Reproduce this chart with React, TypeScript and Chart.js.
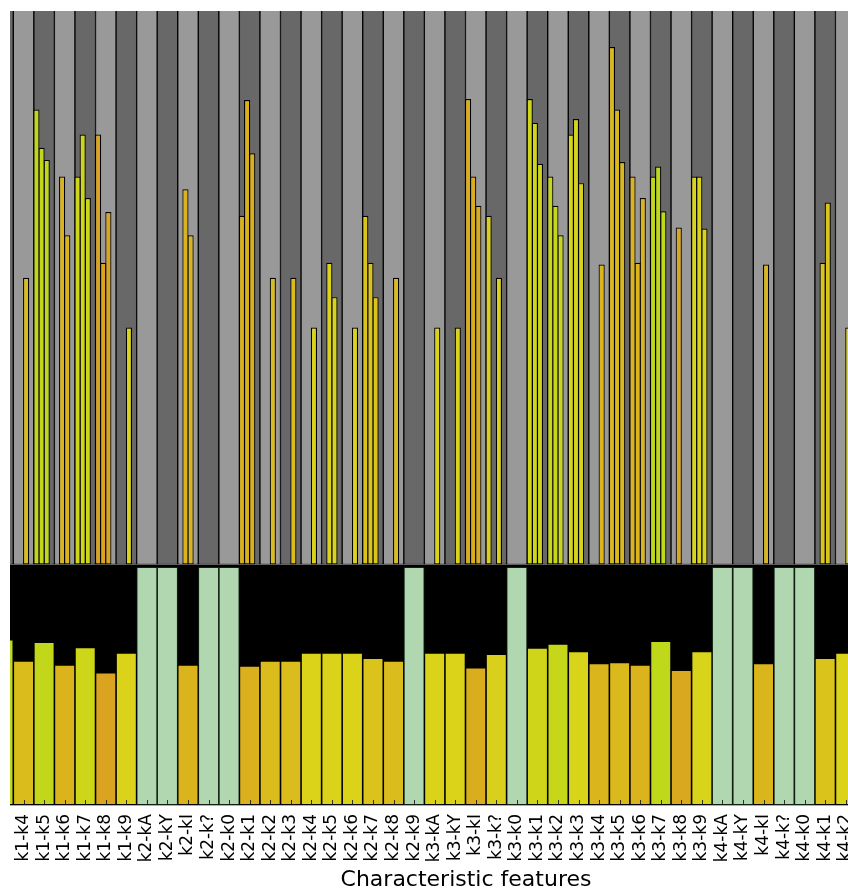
import React, { useEffect, useRef } from 'react';
import { Chart, registerables } from 'chart.js';

Chart.register(...registerables);

// Categories (the first one is only partly visible at the left edge)
const labels = [
  'k1-k3', 'k1-k4', 'k1-k5', 'k1-k6', 'k1-k7', 'k1-k8', 'k1-k9',
  'k2-kA', 'k2-kY', 'k2-kI', 'k2-k?', 'k2-k0', 'k2-k1', 'k2-k2', 'k2-k3', 'k2-k4',
  'k2-k5', 'k2-k6', 'k2-k7', 'k2-k8', 'k2-k9',
  'k3-kA', 'k3-kY', 'k3-kI', 'k3-k?', 'k3-k0', 'k3-k1', 'k3-k2', 'k3-k3', 'k3-k4',
  'k3-k5', 'k3-k6', 'k3-k7', 'k3-k8', 'k3-k9',
  'k4-kA', 'k4-kY', 'k4-kI', 'k4-k?', 'k4-k0', 'k4-k1', 'k4-k2',
];

// Upper panel: three thin bars per category (percent of panel height)
const slotA = [
  null, null, 82.2, null, 70.1, 77.7, null,
  null, null, null, null, null, 63.0, null, null, null,
  null, null, 63.0, null, null,
  null, null, 84.1, 63.0, null, 84.1, 70.1, 77.7, null,
  93.5, 70.1, 70.1, null, 70.1,
  null, null, null, null, null, null, null,
];
const slotB = [
  null, null, 75.3, 70.1, 77.7, 54.5, null,
  null, null, 67.8, null, null, 83.9, null, null, null,
  54.5, null, 54.5, null, null,
  null, null, 70.1, null, null, 79.8, 64.8, 80.5, null,
  82.2, 54.5, 71.9, 60.9, 70.1,
  null, null, null, null, null, 54.5, null,
];
const slotC = [
  null, 51.8, 73.1, 59.5, 66.2, 63.7, 42.8,
  null, null, 59.5, null, null, 74.3, 51.8, 51.8, 42.8,
  48.3, 42.8, 48.3, 51.8, null,
  42.8, 42.8, 64.8, 51.8, null, 72.4, 59.5, 68.9, 54.2,
  72.7, 66.2, 63.8, null, 60.7,
  null, null, 54.2, null, null, 65.4, 42.8,
];

// Lower panel: one bar per category (null = missing, drawn as a full pale-green bar)
const bottomValues = [
  68.8, 60.0, 67.8, 58.3, 65.6, 55.1, 63.3,
  null, null, 58.3, null, null, 57.9, 60.0, 60.0, 63.3,
  63.3, 63.3, 61.1, 60.0, null,
  63.3, 63.3, 57.2, 62.8, null, 65.4, 67.1, 63.9, 58.9,
  59.4, 58.3, 68.2, 56.1, 63.9,
  null, null, 58.9, null, null, 61.1, 63.3,
];

const X_MIN = 0.3395;
const X_MAX = 44.71;
const LIGHT = '#999999';
const DARK = '#686868';
const MISSING = '#b1d7b1';
const FONT = 'DejaVu Sans';

const STOPS: [number, number[]][] = [
  [55, [218, 163, 32]],
  [59, [218, 182, 28]],
  [63.5, [218, 212, 26]],
  [68.5, [190, 216, 26]],
];

function valueColor(v: number | null): string {
  if (v == null) return MISSING;
  if (v <= STOPS[0][0]) return `rgb(${STOPS[0][1].join(',')})`;
  for (let s = 1; s < STOPS.length; s++) {
    const [v1, c1] = STOPS[s];
    const [v0, c0] = STOPS[s - 1];
    if (v <= v1) {
      const t = (v - v0) / (v1 - v0);
      const c = c0.map((a, j) => Math.round(a + (c1[j] - a) * t));
      return `rgb(${c.join(',')})`;
    }
  }
  return `rgb(${STOPS[STOPS.length - 1][1].join(',')})`;
}

const catColors = bottomValues.map((v) => valueColor(v));

const bottomPanelPlugin = {
  id: 'bottomPanel',
  beforeDatasetsDraw(chart: any) {
    const { ctx, chartArea } = chart;
    const yb = chart.scales.yBot;
    ctx.save();
    ctx.fillStyle = '#000';
    ctx.fillRect(chartArea.left, yb.top, chartArea.right - chartArea.left, yb.bottom - yb.top);
    ctx.restore();
  },
  afterDatasetsDraw(chart: any) {
    const { ctx } = chart;
    const xs = chart.scales.x;
    const bottom = chart.chartArea.bottom;
    ctx.save();
    ctx.strokeStyle = 'rgba(20,20,20,0.85)';
    ctx.lineWidth = 1;
    xs.ticks.forEach((t: any) => {
      const px = Math.round(xs.getPixelForValue(t.value)) + 0.5;
      ctx.beginPath();
      ctx.moveTo(px, bottom - 5);
      ctx.lineTo(px, bottom);
      ctx.stroke();
    });
    ctx.restore();
  },
};

function slotData(arr: (number | null)[], k: number) {
  const pts: { x: number; y: number }[] = [];
  arr.forEach((v, i) => {
    if (v != null) pts.push({ x: i - 0.375 + 0.25 * k, y: v });
  });
  return pts;
}

export default function App() {
  const ref = useRef<HTMLCanvasElement | null>(null);

  useEffect(() => {
    if (!ref.current) return;
    Chart.defaults.font.family = FONT;

    const slotColors = (arr: (number | null)[]) =>
      arr.map((v, i) => (v != null ? catColors[i] : null)).filter((c) => c != null);

    const thin = (arr: (number | null)[], k: number) => ({
      type: 'bar' as const,
      xAxisID: 'xt',
      yAxisID: 'yTop',
      data: slotData(arr, k),
      backgroundColor: slotColors(arr),
      borderColor: '#000',
      borderWidth: 1.2,
      borderSkipped: false as const,
      grouped: false,
      barPercentage: 1.2,
      categoryPercentage: 1,
      order: 1,
    });

    const chart = new Chart(ref.current, {
      type: 'bar',
      data: {
        datasets: [
          {
            xAxisID: 'x',
            yAxisID: 'yTop',
            data: labels.map((_, i) => ({ x: i, y: 100 })),
            backgroundColor: labels.map((_, i) => (i % 2 === 1 ? LIGHT : DARK)),
            borderColor: '#000',
            borderWidth: 1,
            borderSkipped: 'end',
            grouped: false,
            barPercentage: 1.0,
            categoryPercentage: 1,
            order: 10,
          } as any,
          thin(slotA, 0) as any,
          thin(slotB, 1) as any,
          thin(slotC, 2) as any,
          {
            xAxisID: 'x',
            yAxisID: 'yBot',
            data: bottomValues
              .map((v, i) => (v == null ? { x: i, y: 99 } : null))
              .filter((p) => p != null),
            backgroundColor: MISSING,
            borderColor: 'rgba(40,70,40,0.45)',
            borderWidth: 1,
            borderSkipped: false,
            grouped: false,
            barPercentage: 1.02,
            categoryPercentage: 1,
            order: 6,
          } as any,
          {
            xAxisID: 'x',
            yAxisID: 'yBot',
            data: bottomValues
              .map((v, i) => (v != null ? { x: i, y: v } : null))
              .filter((p) => p != null),
            backgroundColor: bottomValues
              .map((v, i) => (v != null ? catColors[i] : null))
              .filter((c) => c != null),
            borderColor: '#000',
            borderWidth: 1,
            borderSkipped: false,
            grouped: false,
            barPercentage: 1.02,
            categoryPercentage: 1,
            order: 5,
          } as any,
        ],
      },
      options: {
        animation: false,
        responsive: false,
        events: [],
        layout: { padding: { top: 11, left: 0, right: 0, bottom: 0 } },
        plugins: { legend: { display: false }, tooltip: { enabled: false } },
        scales: {
          x: {
            type: 'linear',
            offset: false,
            min: X_MIN,
            max: X_MAX,
            grid: { display: false, drawTicks: false, offset: false },
            border: { display: true, color: '#b4b4b4', width: 2 },
            afterBuildTicks: (s: any) => {
              s.ticks = labels
                .map((_, i) => ({ value: i }))
                .filter((t) => t.value >= s.min && t.value <= s.max);
            },
            afterFit: (s: any) => {
              s.paddingLeft = 0;
              s.paddingRight = 0;
            },
            ticks: {
              autoSkip: false,
              minRotation: 90,
              maxRotation: 90,
              padding: 9,
              color: '#000',
              font: { size: 17, family: FONT },
              callback: (v: any) => labels[v as number] ?? '',
            },
            title: {
              display: true,
              text: 'Characteristic features',
              color: '#000',
              font: { size: 22, family: FONT },
              padding: { top: -4.5, bottom: 6.8 },
            },
          },
          xt: {
            type: 'linear',
            display: false,
            offset: false,
            grid: { offset: false },
            min: X_MIN,
            max: X_MAX,
          },
          yBot: {
            type: 'linear',
            display: false,
            min: 0,
            max: 100,
            stack: 'panels',
            stackWeight: 240.5,
          },
          yTop: {
            type: 'linear',
            display: false,
            min: 0,
            max: 100,
            stack: 'panels',
            stackWeight: 553.5,
          },
        } as any,
      },
      plugins: [bottomPanelPlugin],
    });

    return () => chart.destroy();
  }, []);

  return (
    <div
      style={{
        position: 'fixed',
        left: 0,
        top: 0,
        width: 848,
        height: 891,
        overflow: 'hidden',
        background: '#fff',
      }}
    >
      <div style={{ position: 'absolute', left: 10, top: 0, width: 912, height: 900 }}>
        <canvas ref={ref} width={912} height={900} style={{ width: 912, height: 900, display: 'block' }} />
      </div>
    </div>
  );
}
